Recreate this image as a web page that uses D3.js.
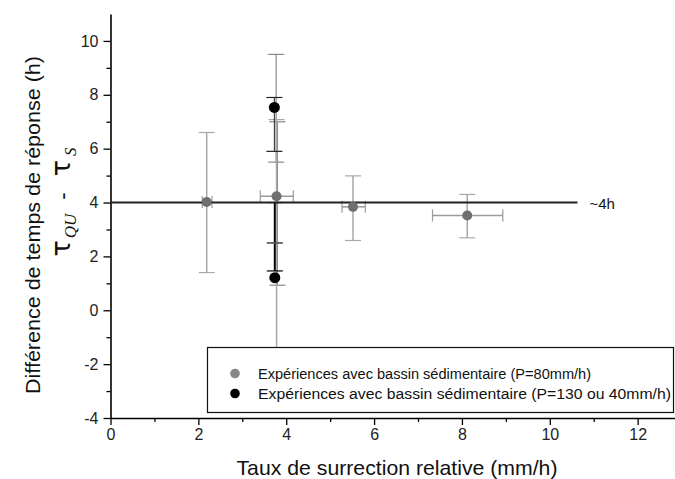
<!DOCTYPE html>
<html><head><meta charset="utf-8">
<script src="https://cdn.jsdelivr.net/npm/d3@7"></script>
<style>body{margin:0;background:#fff}svg{display:block}text{font-family:"Liberation Sans",Arial,sans-serif}</style>
</head><body><svg id="c" width="675" height="479"></svg>
<script>
// Series 1: P=80mm/h (grey)
const grayX   = [2.19, 3.78, 5.52, 8.12];
const grayY   = [4.02, 4.23, 3.84, 3.52];
const grayXLo = [2.09, 3.41, 5.27, 7.33];
const grayXHi = [2.31, 4.16, 5.80, 8.93];
const grayYLo = [1.40, -3.0, 2.59, 2.69];
const grayYHi = [6.60, 7.08, 4.99, 4.30];
// extra grey whiskers on the 3.8 experiment
const grayExtraX  = [3.77, 3.80];
const grayExtraLo = [5.50, 0.93];
const grayExtraHi = [9.50, 7.00];
// Series 2: P=130 ou 40mm/h (black)
const blackX   = [3.73, 3.74];
const blackY   = [7.53, 1.21];
const blackYLo = [5.90, 1.46];
const blackYHi = [7.90, 4.00];
const blackExtraX  = [3.74];
const blackExtraLo = [2.50];
const blackExtraHi = [2.50];
// reference line
const refY = 4, refX0 = 0, refX1 = 10.63, refLabel = "~4h";
const xTicks = [0, 2, 4, 6, 8, 10, 12];
const yTicks = [-4, -2, 0, 2, 4, 6, 8, 10];
const legendLabels = ["Expériences avec bassin sédimentaire (P=80mm/h)", "Expériences avec bassin sédimentaire (P=130 ou 40mm/h)"];

const svg = d3.select("#c");
const x = d3.scaleLinear().domain([0, 12.85]).range([110.5, 675]);
const y = d3.scaleLinear().domain([-4, 11]).range([418, 14]);
const fmt = d => String(d).replace("\u2212", "-");

// axes
const xAxis = d3.axisBottom(x).tickValues(xTicks).tickSize(7).tickSizeOuter(0).tickPadding(4).tickFormat(fmt);
svg.append("g").attr("transform", "translate(0,418)").call(xAxis);
const xMinor = d3.axisBottom(x).tickValues(d3.range(1, 13, 2)).tickSize(4).tickFormat("");
svg.append("g").attr("transform", "translate(0,418)").call(xMinor).select(".domain").remove();
const yAxis = d3.axisLeft(y).tickValues(yTicks).tickSize(7).tickSizeOuter(0).tickPadding(5).tickFormat(fmt);
svg.append("g").attr("transform", "translate(110.5,0)").call(yAxis);
const yMinor = d3.axisLeft(y).tickValues(d3.range(-3, 10, 2)).tickSize(4).tickFormat("");
svg.append("g").attr("transform", "translate(110.5,0)").call(yMinor).select(".domain").remove();
svg.selectAll(".domain").attr("stroke", "#000").attr("stroke-width", 1.6);
svg.selectAll(".tick line").attr("stroke", "#000").attr("stroke-width", 1.3);
svg.selectAll(".tick text").attr("font-size", 16).attr("fill", "#222").attr("font-family", "Liberation Sans, Arial, sans-serif");

// error bars helper
function vbar(g, xv, lo, hi, color, w, cap) {
  g.append("line").attr("x1", x(xv)).attr("x2", x(xv)).attr("y1", y(lo)).attr("y2", y(hi)).attr("stroke", color).attr("stroke-width", w);
  [lo, hi].forEach(v => g.append("line").attr("x1", x(xv) - cap).attr("x2", x(xv) + cap).attr("y1", y(v)).attr("y2", y(v)).attr("stroke", color).attr("stroke-width", 1.2));
}
function hbar(g, yv, lo, hi, color, w, cap) {
  g.append("line").attr("x1", x(lo)).attr("x2", x(hi)).attr("y1", y(yv)).attr("y2", y(yv)).attr("stroke", color).attr("stroke-width", w);
  [lo, hi].forEach(v => g.append("line").attr("x1", x(v)).attr("x2", x(v)).attr("y1", y(yv) - cap).attr("y2", y(yv) + cap).attr("stroke", color).attr("stroke-width", 1.2));
}
const eg = svg.append("g");
grayExtraX.forEach((xv, i) => vbar(eg, xv, grayExtraLo[i], grayExtraHi[i], "#8a8a8a", 1.2, 8));
grayX.forEach((xv, i) => {
  vbar(eg, xv, grayYLo[i], grayYHi[i], "#a8a8a8", 1.5, 8);
  hbar(eg, grayY[i], grayXLo[i], grayXHi[i], "#9a9a9a", 1.5, 6);
});
blackX.forEach((xv, i) => vbar(eg, xv, blackYLo[i], blackYHi[i], i === 1 ? "#000" : "#222", i === 1 ? 2 : 1, 8));
blackExtraX.forEach((xv, i) => vbar(eg, xv, blackExtraLo[i], blackExtraHi[i], "#555", 1, 8));

// reference line
svg.append("line").attr("x1", x(refX0)).attr("x2", x(refX1)).attr("y1", y(refY)).attr("y2", y(refY)).attr("stroke", "#222").attr("stroke-width", 2);
svg.append("text").attr("x", x(refX1) + 12).attr("y", y(refY) + 6).attr("font-size", 15).attr("fill", "#111").text(refLabel);

// points
svg.append("g").selectAll("circle.g").data(grayX).join("circle")
  .attr("cx", d => x(d)).attr("cy", (d, i) => y(grayY[i])).attr("r", 5).attr("fill", "#6f6f6f");
svg.append("g").selectAll("circle.b").data(blackX).join("circle")
  .attr("cx", d => x(d)).attr("cy", (d, i) => y(blackY[i])).attr("r", 5.5).attr("fill", "#000");

// legend
const lg = svg.append("g");
lg.append("rect").attr("x", 207.5).attr("y", 347.5).attr("width", 466).attr("height", 65).attr("fill", "#fff").attr("stroke", "#111").attr("stroke-width", 1.2);
const lc = ["#888", "#000"];
const lw = [333, 413];
legendLabels.forEach((t, i) => {
  lg.append("circle").attr("cx", 235).attr("cy", 373.5 + i * 20).attr("r", 4.8).attr("fill", lc[i]);
  lg.append("text").attr("x", 258).attr("y", 379 + i * 20).attr("font-size", 15.5).attr("fill", "#111")
    .attr("textLength", lw[i]).attr("lengthAdjust", "spacingAndGlyphs").text(t);
});

// axis titles
svg.append("text").attr("x", 397).attr("y", 475).attr("text-anchor", "middle").attr("font-size", 21).attr("fill", "#111")
  .attr("textLength", 321).attr("lengthAdjust", "spacingAndGlyphs").text("Taux de surrection relative (mm/h)");
svg.append("text").attr("transform", "translate(40,225) rotate(-90)").attr("text-anchor", "middle").attr("font-size", 21).attr("fill", "#111")
  .attr("textLength", 338).attr("lengthAdjust", "spacingAndGlyphs").text("Différence de temps de réponse (h)");
const tt = svg.append("text").attr("transform", "translate(70,202) rotate(-90)").attr("text-anchor", "middle").attr("fill", "#111");
tt.append("tspan").attr("font-size", 27).attr("font-family", "DejaVu Sans, sans-serif").text("τ");
tt.append("tspan").attr("font-size", 17).attr("font-style", "italic").attr("font-family", "Liberation Serif, serif").attr("dy", 6).attr("dx", 2).text("QU");
tt.append("tspan").attr("font-size", 22).attr("dy", -6).attr("dx", 14).text("-");
tt.append("tspan").attr("font-size", 27).attr("font-family", "DejaVu Sans, sans-serif").attr("dx", 16).text("τ");
tt.append("tspan").attr("font-size", 17).attr("font-style", "italic").attr("font-family", "Liberation Serif, serif").attr("dy", 6).attr("dx", 4).text("S");
</script></body></html>
